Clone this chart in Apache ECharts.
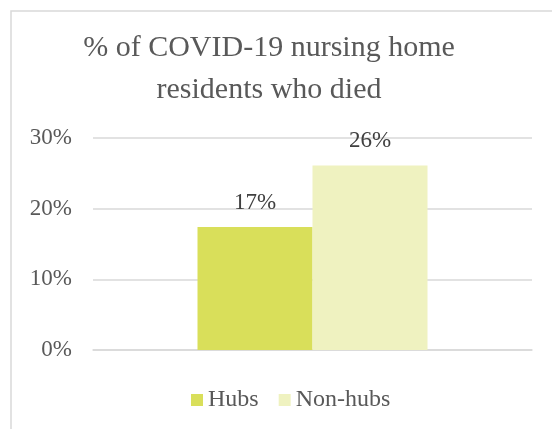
<!DOCTYPE html>
<html><head><meta charset="utf-8">
<script src="https://cdn.jsdelivr.net/npm/echarts@6/dist/echarts.min.js"></script>
<style>html,body{margin:0;padding:0;background:#fff}#c{width:552px;height:429px}</style>
</head><body><div id="c"></div>
<script>
const categories = [''];
const seriesNames = ['Hubs', 'Non-hubs'];
const hubsValues = [0.174];
const nonHubsValues = [0.261];
const yTicks = [0, 0.1, 0.2, 0.3];
const titleText = '% of COVID-19 nursing home\nresidents who died';
const colors = ['#D9DF5A', '#EFF2C0'];
const FONT = '"Liberation Serif", "Times New Roman", serif';

const chart = echarts.init(document.getElementById('c'), null, {renderer: 'canvas'});
const pct = v => Math.round(v * 100) + '%';
chart.setOption({
  animation: false,
  textStyle: {fontFamily: FONT},
  graphic: [{
    type: 'polyline', silent: true,
    shape: {points: [[11, 440], [11, 11], [560, 11]]},
    style: {stroke: '#d9d9d9', lineWidth: 1.5, fill: null}
  }, {
    type: 'text', silent: true, x: 269, y: 27,
    style: {text: titleText, font: '30px ' + FONT, fill: '#595959', align: 'center', verticalAlign: 'top', lineHeight: 42}
  }],
  legend: {
    data: seriesNames, bottom: 12, left: 186,
    itemWidth: 12, itemHeight: 12, itemGap: 20, icon: 'rect',
    textStyle: {fontFamily: FONT, fontSize: 24, color: '#595959', padding: [0, 0, 0, 0]}
  },
  grid: {left: 93, right: 20, top: 138, bottom: 79, containLabel: false},
  xAxis: {
    type: 'category', data: categories,
    axisLine: {show: true, lineStyle: {color: '#d9d9d9', width: 1.5}},
    axisTick: {show: false}, axisLabel: {show: false}
  },
  yAxis: {
    type: 'value', min: yTicks[0], max: yTicks[yTicks.length - 1], interval: yTicks[1] - yTicks[0],
    axisLine: {show: false}, axisTick: {show: false},
    axisLabel: {formatter: pct, fontFamily: FONT, fontSize: 23, color: '#595959', margin: 21},
    splitLine: {lineStyle: {color: '#d9d9d9', width: 1.5}}
  },
  series: [
    {name: seriesNames[0], type: 'bar', data: hubsValues, barWidth: 115, barGap: '0%',
     itemStyle: {color: colors[0]},
     label: {show: true, position: 'top', distance: 13, formatter: p => pct(p.value),
       fontFamily: FONT, fontSize: 23, color: '#404040'}},
    {name: seriesNames[1], type: 'bar', data: nonHubsValues, barWidth: 115, barGap: '0%',
     itemStyle: {color: colors[1]},
     label: {show: true, position: 'top', distance: 13, formatter: p => pct(p.value),
       fontFamily: FONT, fontSize: 23, color: '#404040'}}
  ]
});
</script></body></html>
